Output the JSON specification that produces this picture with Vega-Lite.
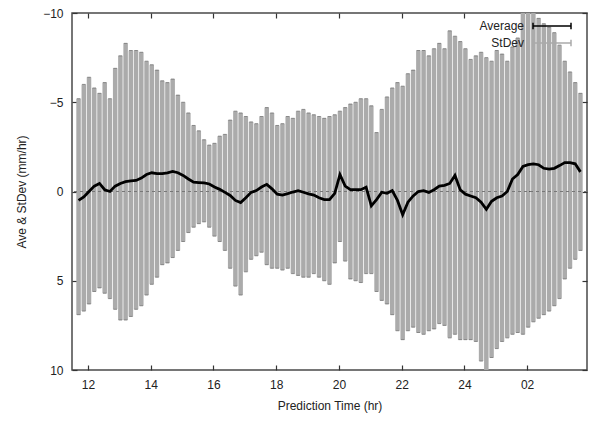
{
  "$schema": "https://vega.github.io/schema/vega-lite/v6.json",
  "width": 515,
  "height": 357,
  "autosize": {"type": "none"},
  "padding": {"left": 72, "top": 13, "right": 5, "bottom": 52},
  "background": "white",
  "config": {
    "view": {"stroke": "#4a4a4a", "strokeWidth": 1.5},
    "axis": {
      "domain": false,
      "grid": false,
      "tickColor": "#333",
      "tickSize": -5,
      "tickWidth": 1.2,
      "labelFont": "Liberation Sans",
      "labelFontSize": 12,
      "labelColor": "#222",
      "titleFont": "Liberation Sans",
      "titleFontSize": 12,
      "titleFontWeight": "normal",
      "titleColor": "#222"
    },
    "legend": {
      "labelFont": "Liberation Sans",
      "labelFontSize": 12,
      "labelColor": "#222"
    }
  },
  "data": {
    "values": [
      {"t": 11.7, "ave": 0.5, "lo": -5.2, "hi": 6.9},
      {"t": 11.867, "ave": 0.3, "lo": -6.0, "hi": 6.7},
      {"t": 12.033, "ave": 0.0, "lo": -6.4, "hi": 6.3},
      {"t": 12.2, "ave": -0.3, "lo": -5.8, "hi": 5.6},
      {"t": 12.367, "ave": -0.45, "lo": -5.5, "hi": 5.4},
      {"t": 12.533, "ave": -0.1, "lo": -6.1, "hi": 5.7},
      {"t": 12.7, "ave": 0.0, "lo": -5.2, "hi": 6.0},
      {"t": 12.867, "ave": -0.3, "lo": -6.9, "hi": 6.6},
      {"t": 13.033, "ave": -0.45, "lo": -7.6, "hi": 7.2},
      {"t": 13.2, "ave": -0.55, "lo": -8.3, "hi": 7.2},
      {"t": 13.367, "ave": -0.6, "lo": -7.9, "hi": 7.0},
      {"t": 13.533, "ave": -0.62, "lo": -7.9, "hi": 6.6},
      {"t": 13.7, "ave": -0.75, "lo": -7.8, "hi": 6.4},
      {"t": 13.867, "ave": -0.95, "lo": -7.3, "hi": 5.8},
      {"t": 14.033, "ave": -1.05, "lo": -7.1, "hi": 5.2},
      {"t": 14.2, "ave": -1.0, "lo": -6.8, "hi": 4.8},
      {"t": 14.367, "ave": -1.0, "lo": -6.2, "hi": 4.1},
      {"t": 14.533, "ave": -1.05, "lo": -6.1, "hi": 4.0},
      {"t": 14.7, "ave": -1.12, "lo": -6.3, "hi": 3.7},
      {"t": 14.867, "ave": -1.05, "lo": -5.4, "hi": 3.3},
      {"t": 15.033, "ave": -0.9, "lo": -5.0, "hi": 2.8},
      {"t": 15.2, "ave": -0.7, "lo": -4.4, "hi": 2.3},
      {"t": 15.367, "ave": -0.52, "lo": -3.7, "hi": 2.0},
      {"t": 15.533, "ave": -0.5, "lo": -3.4, "hi": 1.8},
      {"t": 15.7, "ave": -0.48, "lo": -2.9, "hi": 1.7},
      {"t": 15.867, "ave": -0.42, "lo": -2.6, "hi": 2.0},
      {"t": 16.033, "ave": -0.25, "lo": -2.7, "hi": 2.5},
      {"t": 16.2, "ave": -0.12, "lo": -3.1, "hi": 2.8},
      {"t": 16.367, "ave": 0.05, "lo": -3.2, "hi": 3.3},
      {"t": 16.533, "ave": 0.22, "lo": -4.0, "hi": 4.3},
      {"t": 16.7, "ave": 0.5, "lo": -4.5, "hi": 5.3},
      {"t": 16.867, "ave": 0.62, "lo": -4.4, "hi": 5.8},
      {"t": 17.033, "ave": 0.35, "lo": -4.2, "hi": 4.5},
      {"t": 17.2, "ave": 0.05, "lo": -3.9, "hi": 3.8},
      {"t": 17.367, "ave": -0.05, "lo": -3.8, "hi": 3.6},
      {"t": 17.533, "ave": -0.25, "lo": -4.2, "hi": 3.4},
      {"t": 17.7, "ave": -0.4, "lo": -4.7, "hi": 4.1},
      {"t": 17.867, "ave": -0.15, "lo": -4.4, "hi": 4.3},
      {"t": 18.033, "ave": 0.15, "lo": -3.7, "hi": 4.3},
      {"t": 18.2, "ave": 0.2, "lo": -3.8, "hi": 4.4},
      {"t": 18.367, "ave": 0.12, "lo": -4.2, "hi": 4.3},
      {"t": 18.533, "ave": 0.03, "lo": -4.1, "hi": 4.6},
      {"t": 18.7, "ave": -0.05, "lo": -4.5, "hi": 4.7},
      {"t": 18.867, "ave": 0.04, "lo": -4.6, "hi": 4.8},
      {"t": 19.033, "ave": 0.13, "lo": -4.4, "hi": 4.8},
      {"t": 19.2, "ave": 0.2, "lo": -4.3, "hi": 4.6},
      {"t": 19.367, "ave": 0.35, "lo": -4.2, "hi": 4.8},
      {"t": 19.533, "ave": 0.45, "lo": -4.1, "hi": 5.0},
      {"t": 19.7, "ave": 0.45, "lo": -4.2, "hi": 5.2},
      {"t": 19.867, "ave": 0.1, "lo": -4.3, "hi": 4.0},
      {"t": 20.033, "ave": -0.95, "lo": -4.5, "hi": 2.8},
      {"t": 20.2, "ave": -0.3, "lo": -4.7, "hi": 3.9},
      {"t": 20.367, "ave": -0.1, "lo": -4.9, "hi": 4.9},
      {"t": 20.533, "ave": -0.1, "lo": -5.0, "hi": 5.0},
      {"t": 20.7, "ave": -0.1, "lo": -5.2, "hi": 5.1},
      {"t": 20.867, "ave": -0.24, "lo": -5.2, "hi": 4.6},
      {"t": 21.033, "ave": 0.8, "lo": -4.8, "hi": 4.6},
      {"t": 21.2, "ave": 0.45, "lo": -3.3, "hi": 5.6},
      {"t": 21.367, "ave": 0.04, "lo": -4.6, "hi": 6.1},
      {"t": 21.533, "ave": 0.1, "lo": -5.3, "hi": 6.3},
      {"t": 21.7, "ave": -0.05, "lo": -5.8, "hi": 6.9},
      {"t": 21.867, "ave": 0.5, "lo": -6.1, "hi": 7.8},
      {"t": 22.033, "ave": 1.3, "lo": -5.9, "hi": 8.3},
      {"t": 22.2, "ave": 0.6, "lo": -6.6, "hi": 7.8},
      {"t": 22.367, "ave": 0.25, "lo": -6.8, "hi": 7.6},
      {"t": 22.533, "ave": 0.0, "lo": -7.9, "hi": 7.9},
      {"t": 22.7, "ave": -0.05, "lo": -7.9, "hi": 8.0},
      {"t": 22.867, "ave": 0.05, "lo": -7.6, "hi": 7.8},
      {"t": 23.033, "ave": -0.1, "lo": -8.0, "hi": 7.7},
      {"t": 23.2, "ave": -0.3, "lo": -8.3, "hi": 7.4},
      {"t": 23.367, "ave": -0.34, "lo": -8.0, "hi": 7.5},
      {"t": 23.533, "ave": -0.45, "lo": -9.0, "hi": 8.2},
      {"t": 23.7, "ave": -0.9, "lo": -8.7, "hi": 8.0},
      {"t": 23.867, "ave": -0.1, "lo": -8.4, "hi": 8.3},
      {"t": 24.033, "ave": 0.15, "lo": -8.0, "hi": 8.3},
      {"t": 24.2, "ave": 0.25, "lo": -7.4, "hi": 8.3},
      {"t": 24.367, "ave": 0.35, "lo": -7.6, "hi": 8.4},
      {"t": 24.533, "ave": 0.6, "lo": -7.8, "hi": 9.5},
      {"t": 24.7, "ave": 1.0, "lo": -7.5, "hi": 10.2},
      {"t": 24.867, "ave": 0.55, "lo": -7.3, "hi": 9.3},
      {"t": 25.033, "ave": 0.35, "lo": -7.9, "hi": 8.8},
      {"t": 25.2, "ave": 0.25, "lo": -7.7, "hi": 8.4},
      {"t": 25.367, "ave": 0.0, "lo": -7.3, "hi": 8.2},
      {"t": 25.533, "ave": -0.7, "lo": -8.1, "hi": 8.0},
      {"t": 25.7, "ave": -0.95, "lo": -8.6, "hi": 7.9},
      {"t": 25.867, "ave": -1.4, "lo": -10.2, "hi": 8.0},
      {"t": 26.033, "ave": -1.5, "lo": -10.4, "hi": 7.6},
      {"t": 26.2, "ave": -1.55, "lo": -10.1, "hi": 7.3},
      {"t": 26.367, "ave": -1.5, "lo": -9.7, "hi": 7.1},
      {"t": 26.533, "ave": -1.3, "lo": -9.4, "hi": 6.9},
      {"t": 26.7, "ave": -1.25, "lo": -9.2, "hi": 6.7},
      {"t": 26.867, "ave": -1.3, "lo": -8.9, "hi": 6.4},
      {"t": 27.033, "ave": -1.45, "lo": -8.2, "hi": 6.0},
      {"t": 27.2, "ave": -1.62, "lo": -7.3, "hi": 4.9},
      {"t": 27.367, "ave": -1.62, "lo": -6.7, "hi": 4.3},
      {"t": 27.533, "ave": -1.55, "lo": -6.1, "hi": 3.8},
      {"t": 27.7, "ave": -1.1, "lo": -5.5, "hi": 3.3}
    ]
  },
  "layer": [
    {
      "mark": {"type": "bar", "size": 4.5, "clip": true},
      "encoding": {
        "x": {
          "field": "t",
          "type": "quantitative",
          "scale": {"domain": [11.65, 27.75], "nice": false, "zero": false},
          "axis": {
            "orient": "bottom",
            "values": [12, 14, 16, 18, 20, 22, 24, 26],
            "labelExpr": "datum.value >= 25 ? '0' + (datum.value - 24) : '' + datum.value",
            "labelPadding": 14,
            "title": "Prediction Time (hr)",
            "titlePadding": 10
          }
        },
        "y": {
          "field": "lo",
          "type": "quantitative",
          "scale": {"domain": [-10, 10], "reverse": true, "nice": false, "zero": false},
          "axis": {
            "orient": "left",
            "values": [-10, -5, 0, 5, 10],
            "labelPadding": 14,
            "title": "Ave & StDev (mm/hr)",
            "titlePadding": 14
          }
        },
        "y2": {"field": "hi"},
        "color": {
          "datum": "StDev",
          "scale": {"domain": ["Average", "StDev"], "range": ["#000000", "#ababab"]},
          "legend": {
            "title": null,
            "orient": "none",
            "legendX": 469.5,
            "legendY": 2.5,
            "symbolType": "M-2,0H2M-2,-0.35V0.35M2,-0.35V0.35",
            "symbolSize": 361,
            "symbolStrokeWidth": 1.5,
            "labelAlign": "right",
            "labelOffset": -38.5,
            "padding": 0,
            "rowPadding": -2,
            "encode": {
              "symbols": {
                "update": {
                  "stroke": {"scale": "color", "field": "value"},
                  "fill": {"value": "transparent"}
                }
              }
            }
          }
        }
      }
    },
    {
      "mark": {"type": "tick", "orient": "horizontal", "size": 3.5, "thickness": 1, "color": "#666", "clip": true},
      "encoding": {
        "x": {"field": "t", "type": "quantitative", "axis": null},
        "y": {"field": "lo", "type": "quantitative", "axis": null}
      }
    },
    {
      "mark": {"type": "tick", "orient": "horizontal", "size": 3.5, "thickness": 1, "color": "#666", "clip": true},
      "encoding": {
        "x": {"field": "t", "type": "quantitative", "axis": null},
        "y": {"field": "hi", "type": "quantitative", "axis": null}
      }
    },
    {
      "mark": {"type": "rule", "color": "#777", "strokeWidth": 1, "strokeDash": [3, 3]},
      "encoding": {"y": {"datum": 0, "type": "quantitative", "axis": null}}
    },
    {
      "mark": {"type": "line", "strokeWidth": 2.8, "clip": true},
      "encoding": {
        "x": {
          "field": "t",
          "type": "quantitative",
          "axis": {"orient": "top", "values": [12, 14, 16, 18, 20, 22, 24, 26], "labels": false, "title": null}
        },
        "y": {
          "field": "ave",
          "type": "quantitative",
          "axis": {"orient": "right", "values": [-10, -5, 0, 5, 10], "labels": false, "title": null}
        },
        "color": {"datum": "Average"}
      }
    }
  ]
}
